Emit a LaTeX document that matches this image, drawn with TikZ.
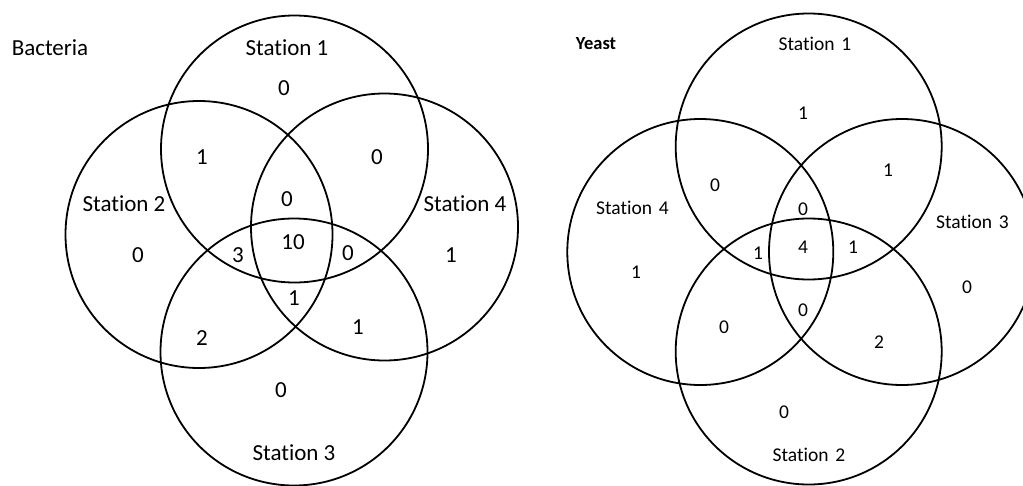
\documentclass[tikz,border=0pt]{standalone}
\usepackage{fontspec}
\setmainfont{Carlito}[Ligatures=NoCommon]
\begin{document}
\begin{tikzpicture}[x=1pt,y=-1pt]
        \tikzstyle{circle_style} = [draw, circle, line width=1.8, inner sep=0, minimum size=267]
        \tikzstyle{left_text} = [font=\fontsize{23}{27}\selectfont]
        \tikzstyle{right_text} = [font=\fontsize{19.5}{24}\selectfont]
        \useasboundingbox (0,0) rectangle (1023,485);

        % Bacteria on the left
        \node[circle_style] (b1) at (294.5,149) {};
        \node[circle_style] (b2) at (199,234.5) {};
        \node[circle_style] (b4) at (384.5,227) {};
        \node[circle_style] (b3) at (294,352) {};

        \node[left_text] (bt) at (50,48) {Bacteria};
        \node[left_text] (bs1) at (287,48) {Station 1};
        \node[left_text] (bs2) at (124,204) {Station 2};
        \node[left_text] (bs4) at (465,204) {Station 4};
        \node[left_text] (bs3) at (294,453) {Station 3};

        \node[left_text] (bn1) at (284,88) {0};
        \node[left_text] (bn12) at (202,157) {1};
        \node[left_text] (bn14) at (377,157) {0};
        \node[left_text] (bn124) at (287,199) {0};
        \node[left_text] (bn2) at (138,255) {0};
        \node[left_text] (bn123) at (238,255) {3};
        \node[left_text] (bn1234) at (293,242) {10};
        \node[left_text] (bn134) at (348,253) {0};
        \node[left_text] (bn4) at (451,255) {1};
        \node[left_text] (bn234) at (294,298) {1};
        \node[left_text] (bn23) at (202,338) {2};
        \node[left_text] (bn34) at (358,327) {1};
        \node[left_text] (bn3) at (281,390) {0};

        % Yeast on the right
        \node[circle_style, minimum size=266] (y1) at (808.7,146.5) {};
        \node[circle_style, minimum size=266] (y4) at (700.3,252) {};
        \node[circle_style, minimum size=266] (y3) at (902,252) {};
        \node[circle_style, minimum size=266] (y2) at (808.7,351.5) {};

        \node[right_text, font=\fontsize{18.5}{22}\selectfont\bfseries] (yt) at (596,44) {Yeast};
        \node[right_text] (ys1) at (815,44) {Station\hspace{0.35em}1};
        \node[right_text] (ys4) at (632.5,208) {Station\hspace{0.35em}4};
        \node[right_text] (ys3) at (972.5,222) {Station\hspace{0.35em}3};
        \node[right_text] (ys2) at (809,455) {Station\hspace{0.35em}2};

        \node[right_text] (yn1) at (803,113) {1};
        \node[right_text] (yn14) at (715,185) {0};
        \node[right_text] (yn13) at (888,170) {1};
        \node[right_text] (yn134) at (803,209) {0};
        \node[right_text] (yn124) at (758,253) {1};
        \node[right_text] (yn1234) at (803,247) {4};
        \node[right_text] (yn123) at (853,247) {1};
        \node[right_text] (yn4) at (636,272) {1};
        \node[right_text] (yn3) at (967,287) {0};
        \node[right_text] (yn234) at (803,310) {0};
        \node[right_text] (yn24) at (724,327) {0};
        \node[right_text] (yn23) at (879,342) {2};
        \node[right_text] (yn2) at (784,412) {0};
    \end{tikzpicture}
\end{document}
